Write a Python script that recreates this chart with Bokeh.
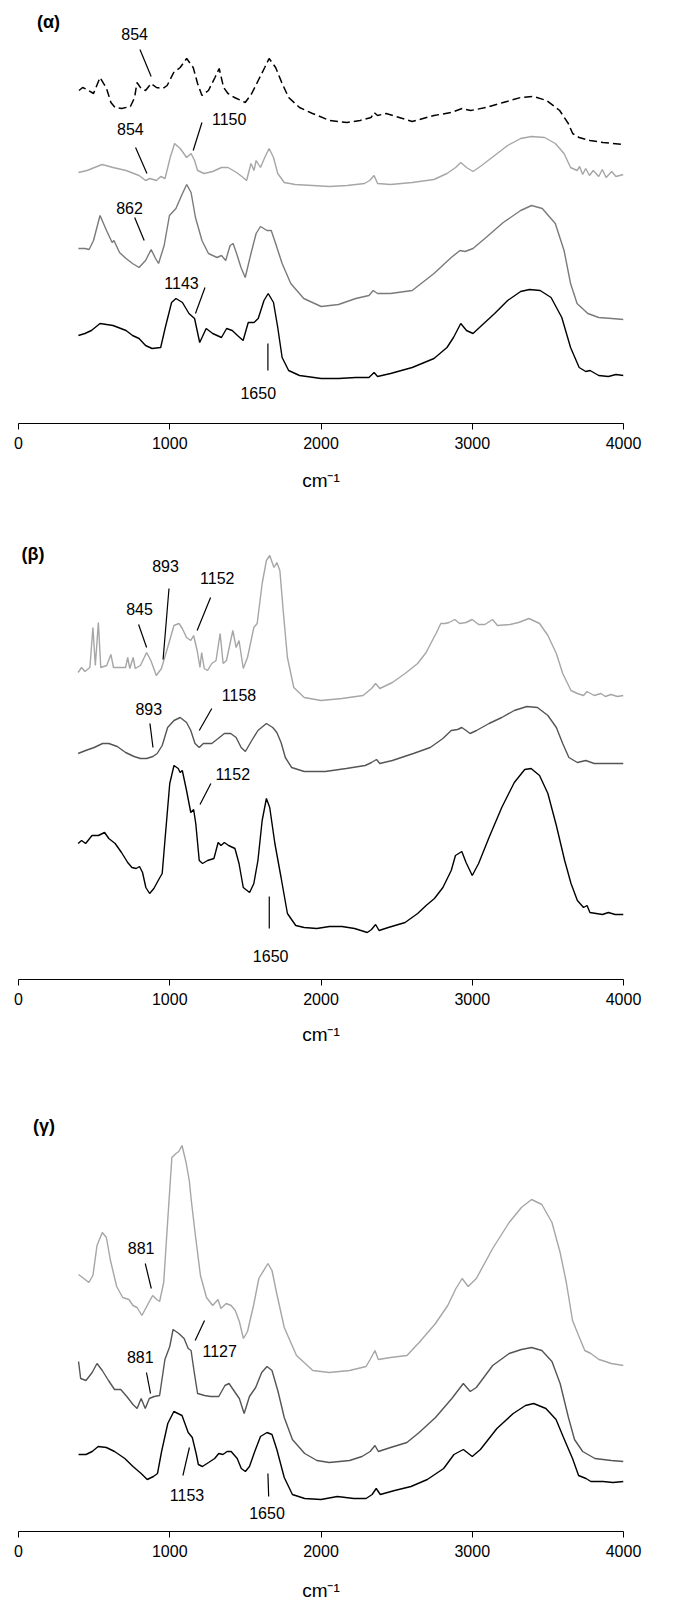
from bokeh.plotting import figure
from bokeh.layouts import column
from bokeh.models import Range1d, FixedTicker, Label, ColumnDataSource
from bokeh.core.properties import value
from bokeh.embed import file_html
from bokeh.resources import INLINE

FONT = "Liberation Sans"

# ---------------- Panel (alpha) ----------------
a1_x = [400, 424, 453, 496, 539, 582, 611, 639, 682, 740, 768, 783, 811, 840, 877, 912, 955, 983, 1026, 1069, 1112, 1155, 1184, 1213, 1256, 1299, 1327, 1356, 1385, 1428, 1471, 1499, 1542, 1585, 1628, 1657, 1700, 1743, 1786, 1858, 1944, 2058, 2173, 2259, 2331, 2351, 2374, 2431, 2517, 2603, 2747, 2861, 2933, 2990, 3091, 3205, 3320, 3406, 3492, 3578, 3635, 3664, 3707, 3779, 3865, 4000]
a1_y = [333, 336, 334, 330, 346, 335, 321, 316, 315, 317, 326, 341, 335, 333, 340, 336, 335, 338, 351, 356, 365, 356, 340, 328, 333, 346, 355, 336, 330, 326, 323, 321, 330, 343, 356, 365, 356, 340, 326, 316, 310, 303, 301, 303, 306, 311, 308, 310, 306, 302, 308, 311, 315, 313, 316, 321, 326, 327, 323, 313, 300, 290, 286, 283, 281, 279]

a2_x = [396, 453, 553, 625, 711, 797, 840, 869, 912, 940, 969, 1003, 1032, 1069, 1112, 1141, 1164, 1184, 1227, 1284, 1342, 1385, 1442, 1485, 1508, 1537, 1557, 1571, 1600, 1628, 1657, 1686, 1714, 1757, 1829, 1944, 2058, 2173, 2288, 2322, 2351, 2374, 2460, 2603, 2747, 2833, 2890, 2924, 2962, 3005, 3062, 3148, 3234, 3320, 3392, 3478, 3549, 3607, 3650, 3693, 3710, 3730, 3750, 3775, 3800, 3836, 3860, 3885, 3922, 3950, 4000]
a2_y = [251, 253, 259, 256, 253, 248, 243, 245, 243, 247, 245, 266, 280, 275, 266, 270, 263, 253, 250, 252, 256, 256, 251, 246, 243, 260, 253, 263, 256, 266, 275, 266, 250, 241, 239, 238, 237, 238, 240, 243, 248, 240, 239, 241, 244, 250, 256, 261, 256, 252, 258, 268, 278, 285, 287, 286, 280, 270, 256, 253, 257, 249, 255, 248, 253, 247, 254, 246, 252, 247, 249]

a3_x = [396, 439, 467, 496, 539, 582, 619, 631, 668, 711, 754, 797, 840, 877, 906, 926, 963, 998, 1041, 1084, 1112, 1141, 1170, 1213, 1256, 1313, 1342, 1370, 1399, 1419, 1442, 1471, 1499, 1537, 1571, 1600, 1643, 1671, 1700, 1743, 1800, 1886, 2001, 2116, 2230, 2317, 2345, 2374, 2460, 2603, 2747, 2861, 2919, 2953, 3005, 3091, 3205, 3320, 3392, 3463, 3549, 3607, 3650, 3693, 3764, 3836, 3922, 4000]
a3_y = [175, 175, 174, 183, 208, 193, 181, 183, 171, 165, 160, 156, 163, 174, 165, 160, 178, 208, 215, 230, 239, 231, 206, 183, 170, 166, 168, 163, 178, 180, 170, 156, 146, 170, 190, 197, 193, 193, 180, 160, 140, 125, 117, 119, 125, 128, 133, 130, 130, 133, 150, 166, 173, 172, 175, 186, 201, 213, 218, 215, 200, 173, 140, 120, 110, 106, 105, 104]

a4_x = [396, 439, 482, 539, 625, 711, 754, 797, 840, 883, 940, 969, 1012, 1041, 1084, 1127, 1164, 1198, 1241, 1284, 1342, 1376, 1413, 1448, 1485, 1519, 1557, 1585, 1623, 1651, 1686, 1714, 1743, 1786, 1858, 2001, 2116, 2230, 2317, 2351, 2374, 2460, 2603, 2747, 2833, 2876, 2924, 2962, 3005, 3062, 3148, 3234, 3320, 3378, 3449, 3521, 3592, 3650, 3707, 3750, 3779, 3836, 3900, 3950, 4000]
a4_y = [88, 90, 93, 100, 98, 93, 88, 85, 78, 75, 76, 95, 121, 125, 121, 110, 105, 81, 95, 90, 86, 95, 93, 88, 83, 101, 101, 105, 123, 130, 121, 96, 66, 53, 48, 45, 45, 46, 46, 51, 47, 50, 56, 65, 76, 86, 100, 93, 90, 98, 110, 123, 132, 134, 133, 126, 106, 76, 56, 52, 53, 48, 47, 49, 48]

a_lab = ["854", "854", "1150", "862", "1143", "1650"]
a_lab_x = [768, 740, 1393, 734, 1078, 1585]
a_lab_y = [390, 295, 305, 216, 141, 31]
a_lead_x0 = [803, 774, 1213, 768, 1233, 1649]
a_lead_y0 = [374, 276, 301, 206, 136, 80]
a_lead_x1 = [877, 849, 1155, 831, 1170, 1649]
a_lead_y1 = [347, 250, 273, 183, 110, 53]

# ---------------- Panel (beta) ----------------
b1_x = [394, 417, 439, 472, 492, 508, 528, 544, 583, 611, 628, 667, 708, 722, 736, 758, 772, 806, 847, 875, 911, 945, 986, 1028, 1061, 1083, 1111, 1139, 1158, 1181, 1200, 1211, 1228, 1250, 1278, 1306, 1333, 1353, 1375, 1417, 1439, 1458, 1486, 1514, 1556, 1578, 1611, 1639, 1661, 1689, 1708, 1728, 1750, 1778, 1820, 1889, 2000, 2139, 2278, 2334, 2361, 2389, 2472, 2556, 2639, 2695, 2736, 2764, 2792, 2820, 2847, 2884, 2917, 2959, 3000, 3042, 3084, 3134, 3167, 3250, 3306, 3375, 3445, 3500, 3556, 3598, 3653, 3695, 3736, 3759, 3806, 3850, 3880, 3917, 3960, 4000]
b1_y = [307, 312, 308, 312, 352, 314, 357, 312, 314, 325, 312, 312, 312, 322, 311, 322, 311, 314, 327, 319, 304, 311, 332, 354, 356, 351, 342, 339, 344, 329, 312, 327, 311, 309, 316, 319, 346, 316, 319, 349, 332, 339, 311, 322, 352, 356, 396, 419, 424, 412, 417, 409, 369, 322, 292, 282, 279, 281, 284, 291, 296, 291, 297, 306, 316, 327, 339, 347, 356, 356, 357, 360, 356, 357, 360, 355, 355, 360, 354, 355, 357, 361, 356, 344, 326, 306, 289, 286, 284, 288, 284, 286, 283, 285, 283, 284]

b2_x = [394, 444, 500, 556, 597, 653, 708, 764, 806, 847, 889, 917, 950, 986, 1028, 1069, 1111, 1139, 1167, 1195, 1222, 1278, 1320, 1361, 1403, 1439, 1472, 1500, 1542, 1583, 1639, 1681, 1708, 1736, 1764, 1806, 1889, 2028, 2167, 2292, 2334, 2367, 2389, 2472, 2611, 2722, 2806, 2861, 2903, 2931, 2959, 2986, 3028, 3111, 3195, 3278, 3361, 3431, 3500, 3556, 3598, 3639, 3695, 3750, 3806, 3917, 4000]
b2_y = [226, 229, 232, 236, 236, 233, 227, 223, 221, 221, 223, 226, 234, 252, 259, 262, 257, 249, 236, 232, 236, 236, 241, 246, 246, 242, 232, 228, 239, 249, 256, 252, 247, 237, 222, 212, 208, 208, 211, 214, 217, 220, 216, 219, 226, 232, 241, 249, 250, 252, 249, 246, 249, 256, 262, 269, 273, 272, 264, 252, 236, 222, 217, 219, 216, 216, 216]

b3_x = [394, 417, 444, 486, 528, 569, 597, 639, 681, 722, 750, 778, 800, 820, 842, 867, 895, 931, 950, 972, 1000, 1028, 1056, 1069, 1083, 1111, 1139, 1158, 1172, 1195, 1217, 1250, 1292, 1320, 1339, 1361, 1389, 1431, 1458, 1486, 1528, 1556, 1583, 1611, 1639, 1661, 1695, 1736, 1778, 1833, 1889, 1972, 2056, 2139, 2222, 2306, 2334, 2361, 2384, 2445, 2556, 2639, 2695, 2750, 2806, 2861, 2889, 2931, 2959, 3000, 3042, 3111, 3195, 3278, 3347, 3389, 3445, 3500, 3556, 3611, 3653, 3695, 3736, 3759, 3778, 3861, 3900, 3945, 4000]
b3_y = [136, 139, 136, 144, 144, 147, 141, 136, 127, 117, 112, 111, 113, 107, 92, 86, 91, 101, 106, 146, 196, 214, 211, 207, 209, 189, 167, 170, 156, 119, 116, 119, 121, 137, 134, 137, 134, 131, 116, 92, 87, 96, 119, 159, 181, 172, 136, 102, 66, 54, 52, 51, 53, 53, 51, 47, 50, 55, 49, 52, 57, 66, 74, 81, 92, 109, 124, 128, 117, 104, 116, 142, 172, 197, 210, 211, 204, 186, 154, 119, 96, 79, 72, 74, 67, 65, 67, 65, 65]

b_lab = ["893", "1152", "845", "893", "1158", "1152", "1650"]
b_lab_x = [972, 1314, 800, 861, 1458, 1417, 1667]
b_lab_y = [414, 402, 371, 271, 285, 206, 24]
b_lead_x0 = [995, 1270, 794, 869, 1278, 1272, 1658]
b_lead_y0 = [391, 382, 355, 256, 271, 196, 83]
b_lead_x1 = [956, 1181, 847, 889, 1195, 1200, 1658]
b_lead_y1 = [320, 349, 332, 232, 249, 175, 51]

# ---------------- Panel (gamma) ----------------
g1_x = [397, 432, 465, 492, 519, 554, 581, 608, 649, 689, 730, 757, 784, 816, 851, 887, 914, 933, 960, 987, 1014, 1041, 1060, 1081, 1108, 1130, 1141, 1168, 1203, 1243, 1284, 1319, 1338, 1373, 1406, 1433, 1460, 1487, 1514, 1554, 1589, 1649, 1676, 1703, 1757, 1838, 1946, 2054, 2189, 2298, 2325, 2357, 2379, 2460, 2568, 2649, 2757, 2838, 2892, 2933, 2973, 3027, 3135, 3244, 3325, 3392, 3460, 3527, 3581, 3622, 3663, 3703, 3744, 3784, 3838, 3880, 3919, 3960, 4000]
g1_y = [257, 253, 249, 256, 286, 299, 294, 271, 245, 234, 232, 226, 224, 216, 226, 236, 232, 230, 249, 312, 374, 378, 380, 386, 369, 350, 333, 298, 256, 234, 226, 232, 223, 228, 226, 221, 210, 193, 200, 226, 253, 268, 261, 241, 204, 176, 161, 159, 161, 165, 172, 181, 172, 174, 176, 189, 208, 226, 243, 253, 245, 253, 283, 309, 324, 332, 327, 309, 279, 249, 211, 196, 181, 178, 172, 170, 168, 167, 166]

g2_x = [397, 411, 446, 487, 519, 554, 595, 635, 676, 716, 757, 784, 811, 838, 865, 897, 933, 968, 1000, 1022, 1060, 1095, 1122, 1141, 1162, 1184, 1230, 1270, 1324, 1365, 1392, 1419, 1460, 1492, 1527, 1568, 1608, 1643, 1676, 1716, 1757, 1811, 1892, 1973, 2054, 2189, 2271, 2325, 2357, 2379, 2460, 2568, 2649, 2757, 2865, 2941, 2987, 3027, 3135, 3244, 3325, 3392, 3460, 3527, 3581, 3636, 3676, 3730, 3811, 3919, 4000]
g2_y = [170, 153, 151, 159, 168, 161, 151, 142, 142, 135, 127, 123, 133, 123, 133, 135, 136, 172, 185, 202, 198, 193, 183, 181, 159, 138, 136, 135, 135, 146, 148, 142, 133, 118, 135, 144, 159, 165, 161, 140, 114, 92, 78, 71, 69, 71, 75, 80, 86, 80, 84, 89, 99, 114, 133, 148, 140, 144, 166, 178, 182, 184, 181, 170, 148, 114, 92, 80, 73, 71, 70]

g3_x = [397, 446, 487, 527, 581, 635, 703, 757, 811, 851, 892, 919, 946, 987, 1027, 1081, 1122, 1149, 1176, 1189, 1216, 1257, 1297, 1324, 1352, 1379, 1406, 1446, 1473, 1500, 1527, 1562, 1600, 1643, 1676, 1708, 1757, 1811, 1892, 2000, 2108, 2217, 2298, 2338, 2365, 2392, 2487, 2595, 2703, 2811, 2879, 2941, 3000, 3054, 3163, 3271, 3352, 3406, 3487, 3554, 3609, 3663, 3703, 3752, 3784, 3865, 3930, 4000]
g3_y = [77, 77, 80, 85, 84, 80, 73, 65, 58, 52, 55, 58, 80, 108, 120, 116, 99, 94, 77, 67, 65, 69, 73, 78, 77, 80, 80, 73, 63, 60, 65, 80, 95, 99, 97, 82, 54, 37, 33, 32, 35, 33, 33, 37, 43, 37, 41, 45, 52, 63, 77, 82, 75, 82, 103, 118, 126, 128, 123, 112, 92, 73, 56, 53, 50, 50, 49, 50]

g_lab = ["881", "881", "1127", "1153", "1650"]
g_lab_x = [811, 805, 1330, 1114, 1643]
g_lab_y = [284, 175, 181, 37, 19]
g_lead_x0 = [838, 846, 1230, 1087, 1649]
g_lead_y0 = [268, 159, 211, 56, 58]
g_lead_x1 = [878, 873, 1168, 1130, 1654]
g_lead_y1 = [243, 138, 191, 84, 35]

x_ticks = [0, 1000, 2000, 3000, 4000]
panel_names = ["(α)", "(β)", "(γ)"]
axis_title = "cm\u207b\u00b9"

LIGHT = "#a6a6a6"
MID_A = "#7a7a7a"
MID = "#555555"
BLACK = "#000000"


def make_panel(height, frame_h, left, right, bottom, label_standoff):
    p = figure(width=680, height=height, output_backend="svg", toolbar_location=None,
               title=None, y_axis_location=None,
               x_range=Range1d(0, 4000), y_range=Range1d(0, frame_h),
               min_border_left=left, min_border_right=right,
               min_border_top=0, min_border_bottom=bottom)
    p.outline_line_color = None
    p.grid.visible = False
    p.background_fill_color = "white"
    p.border_fill_color = "white"
    ax = p.xaxis[0]
    ax.ticker = FixedTicker(ticks=x_ticks)
    ax.minor_tick_line_color = None
    ax.major_tick_in = 0
    ax.major_tick_out = 6
    ax.axis_line_color = "black"
    ax.major_tick_line_color = "black"
    ax.major_label_text_font = FONT
    ax.major_label_text_font_size = "16px"
    ax.major_label_text_color = "black"
    ax.major_label_standoff = 7
    ax.axis_label = axis_title
    ax.axis_label_text_font = FONT
    ax.axis_label_text_font_size = "19px"
    ax.axis_label_text_font_style = "normal"
    ax.axis_label_text_color = "black"
    ax.axis_label_standoff = label_standoff
    return p


def add_notes(p, labs, lx, ly, x0, y0, x1, y1):
    p.segment(x0=x0, y0=y0, x1=x1, y1=y1, line_color="black", line_width=1.2)
    src = ColumnDataSource(dict(x=lx, y=ly, t=labs))
    p.text(x="x", y="y", text="t", source=src, text_align="center", text_baseline="middle",
           text_font=value(FONT), text_font_size="16px", text_color="black")


def add_name(p, name, x, y):
    p.add_layout(Label(x=x, y=y, text=name, text_align="center", text_baseline="middle",
                       text_font=FONT, text_font_size="18px", text_font_style="bold",
                       text_color="black"))


# alpha
pa = make_panel(520, 423, 18, 57, 97, 18)
pa.line(a1_x, a1_y, line_color=BLACK, line_width=1.5, line_dash="8 4")
pa.line(a2_x, a2_y, line_color=LIGHT, line_width=1.4)
pa.line(a3_x, a3_y, line_color=MID_A, line_width=1.4)
pa.line(a4_x, a4_y, line_color=BLACK, line_width=1.4)
add_notes(pa, a_lab, a_lab_x, a_lab_y, a_lead_x0, a_lead_y0, a_lead_x1, a_lead_y1)
add_name(pa, panel_names[0], 198, 402)

# beta
pb = make_panel(555, 459, 13, 42, 96, 16)
pb.line(b1_x, b1_y, line_color=LIGHT, line_width=1.4)
pb.line(b2_x, b2_y, line_color=MID, line_width=1.4)
pb.line(b3_x, b3_y, line_color=BLACK, line_width=1.4)
add_notes(pb, b_lab, b_lab_x, b_lab_y, b_lead_x0, b_lead_y0, b_lead_x1, b_lead_y1)
add_name(pb, panel_names[1], 96, 426)

# gamma
pg = make_panel(531, 456, 17, 21, 75, 20)
pg.line(g1_x, g1_y, line_color=LIGHT, line_width=1.4)
pg.line(g2_x, g2_y, line_color=MID, line_width=1.4)
pg.line(g3_x, g3_y, line_color=BLACK, line_width=1.4)
add_notes(pg, g_lab, g_lab_x, g_lab_y, g_lead_x0, g_lead_y0, g_lead_x1, g_lead_y1)
add_name(pg, panel_names[2], 168, 406)

layout = column(pa, pb, pg, spacing=0)
open("out.html", "w").write(file_html(layout, INLINE))
